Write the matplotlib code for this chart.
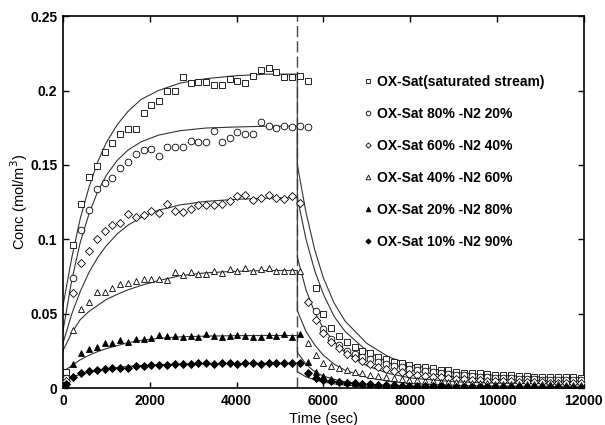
import numpy as np
import matplotlib
matplotlib.use("Agg")
import matplotlib.pyplot as plt

# sampling times of the measured points (s)
sample_times = np.arange(60, 12000, 180)

labels = [
    "OX-Sat(saturated stream)",
    "OX-Sat 80% -N2 20%",
    "OX-Sat 60% -N2 40%",
    "OX-Sat 40% -N2 60%",
    "OX-Sat 20% -N2 80%",
    "OX-Sat 10% -N2 90%",
]

# measured concentrations (mol/m3)
sat100 = [0.011, 0.096, 0.124, 0.142, 0.149, 0.159, 0.165, 0.171, 0.174, 0.174, 0.185, 0.190,
          0.193, 0.200, 0.200, 0.209, 0.205, 0.206, 0.206, 0.204, 0.204, 0.2075, 0.2065, 0.205,
          0.210, 0.214, 0.215, 0.2125, 0.209, 0.209, 0.210, 0.2065,
          0.067, 0.050, 0.0405, 0.035, 0.031, 0.0277, 0.025, 0.0233, 0.021, 0.0193, 0.0177,
          0.0166, 0.0155, 0.0144, 0.0144, 0.0132, 0.0121, 0.0121, 0.011, 0.0103, 0.0099, 0.0099,
          0.0094, 0.0087, 0.0087, 0.0087, 0.0081, 0.0081, 0.0076, 0.0076, 0.0072, 0.0072, 0.0072,
          0.0072, 0.0065]
sat80 = [0.007, 0.074, 0.106, 0.120, 0.134, 0.1375, 0.141, 0.148, 0.152, 0.157, 0.160, 0.161,
         0.156, 0.162, 0.162, 0.162, 0.166, 0.1655, 0.1655, 0.173, 0.1655, 0.168, 0.172, 0.171,
         0.171, 0.179, 0.176, 0.175, 0.176, 0.1755, 0.176, 0.1755,
         0.052, 0.040, 0.0327, 0.0289, 0.025, 0.0228, 0.021, 0.0193, 0.0175, 0.0162, 0.015,
         0.014, 0.013, 0.0122, 0.0113, 0.0105, 0.010, 0.0095, 0.009, 0.0085, 0.008, 0.0077,
         0.0073, 0.007, 0.0068, 0.0065, 0.0062, 0.006, 0.0058, 0.0057, 0.0055, 0.0055, 0.0054,
         0.0053, 0.0052]
sat60 = [0.005, 0.0636, 0.084, 0.092, 0.100, 0.1055, 0.1095, 0.111, 0.117, 0.115, 0.116, 0.119,
         0.118, 0.1235, 0.119, 0.1185, 0.1205, 0.123, 0.123, 0.123, 0.124, 0.126, 0.129, 0.1297,
         0.1263, 0.128, 0.1297, 0.1275, 0.127, 0.129, 0.1245,
         0.058, 0.046, 0.037, 0.031, 0.027, 0.023, 0.020, 0.018, 0.016, 0.014, 0.0127, 0.0115,
         0.0105, 0.0097, 0.009, 0.0083, 0.0077, 0.0072, 0.0067, 0.0063, 0.006, 0.0056, 0.0053,
         0.005, 0.0048, 0.0046, 0.0044, 0.0042, 0.004, 0.0039, 0.0038, 0.0037, 0.0036, 0.0035,
         0.0034, 0.0033]
sat40 = [0.003, 0.039, 0.053, 0.058, 0.0647, 0.0647, 0.067, 0.070, 0.0704, 0.072, 0.0735, 0.0735,
         0.073, 0.0726, 0.078, 0.076, 0.078, 0.0766, 0.0766, 0.0786, 0.0775, 0.080, 0.079, 0.081,
         0.079, 0.0797, 0.0804, 0.079, 0.079, 0.079, 0.079,
         0.0305, 0.022, 0.0166, 0.0148, 0.0132, 0.0121, 0.011, 0.010, 0.009, 0.0082, 0.0075,
         0.0068, 0.0062, 0.0057, 0.0053, 0.0049, 0.0046, 0.0043, 0.004, 0.0038, 0.0036, 0.0034,
         0.0032, 0.0031, 0.003, 0.0029, 0.0028, 0.0027, 0.0026, 0.0025, 0.0025, 0.0024, 0.0024,
         0.0023, 0.0023, 0.0022]
sat20 = [0.001, 0.016, 0.0237, 0.026, 0.0278, 0.030, 0.0305, 0.0323, 0.031, 0.0327, 0.0327, 0.0334,
         0.0356, 0.035, 0.035, 0.034, 0.035, 0.0345, 0.0363, 0.035, 0.0345, 0.035, 0.0356, 0.035,
         0.0345, 0.0345, 0.0356, 0.035, 0.0363, 0.0345, 0.0363,
         0.0177, 0.011, 0.008, 0.0062, 0.005, 0.0042, 0.0036, 0.0031, 0.0027, 0.0024, 0.0022,
         0.002, 0.0018, 0.0017, 0.0016, 0.0015, 0.0014, 0.0013, 0.0012, 0.0012, 0.0011, 0.0011,
         0.001, 0.001, 0.001, 0.0009, 0.0009, 0.0009, 0.0008, 0.0008, 0.0008, 0.0007, 0.0007,
         0.0006, 0.0003, 0.0003]
sat10 = [0.003, 0.0072, 0.0099, 0.0116, 0.0121, 0.0125, 0.0132, 0.0137, 0.0137, 0.0148, 0.0148,
         0.0155, 0.0155, 0.0155, 0.0161, 0.0161, 0.0163, 0.0166, 0.0166, 0.0163, 0.0166, 0.0166,
         0.0163, 0.0166, 0.0166, 0.0163, 0.0166, 0.0166, 0.017, 0.0166, 0.0166,
         0.0099, 0.0065, 0.0054, 0.0045, 0.004, 0.0035, 0.0031, 0.0028, 0.0025, 0.0022, 0.002,
         0.0018, 0.0016, 0.0015, 0.0014, 0.0013, 0.0012, 0.0011, 0.001, 0.001, 0.0009, 0.0009,
         0.0008, 0.0008, 0.0007, 0.0007, 0.0006, 0.0006, 0.0005, 0.0005, 0.0005, 0.0004, 0.0004,
         0.0003, 0.0002, 0.0002]

# model curves
rise_t = [0, 200, 400, 600, 800, 1000, 1250, 1500, 1800, 2200, 2700, 3300, 4000, 4700, 5400]
decay_t = [5400, 5600, 5800, 6000, 6250, 6500, 7000, 7500, 8000, 9000, 10000, 11000, 12000]

fit100_rise = [0.055, 0.087, 0.114, 0.135, 0.152, 0.165, 0.177, 0.186, 0.194, 0.200, 0.205, 0.208, 0.210, 0.211, 0.211]
fit80_rise = [0.038, 0.072, 0.098, 0.117, 0.132, 0.143, 0.153, 0.160, 0.1655, 0.170, 0.173, 0.1748, 0.1755, 0.176, 0.176]
fit60_rise = [0.030, 0.0495, 0.065, 0.0777, 0.0877, 0.0957, 0.1036, 0.1095, 0.1147, 0.1195, 0.1231, 0.1255, 0.1269, 0.1276, 0.128]
fit40_rise = [0.025, 0.037, 0.046, 0.0515, 0.0555, 0.0595, 0.063, 0.066, 0.069, 0.0722, 0.0755, 0.0775, 0.0785, 0.079, 0.079]
fit20_rise = [0.011, 0.015, 0.019, 0.022, 0.0245, 0.0265, 0.0285, 0.0305, 0.032, 0.0334, 0.0344, 0.0349, 0.0352, 0.0353, 0.0353]
fit10_rise = [0.005, 0.0072, 0.0092, 0.0106, 0.0118, 0.0128, 0.0137, 0.0145, 0.0151, 0.0157, 0.0161, 0.0164, 0.0165, 0.0166, 0.0166]

fit100_decay = [0.150, 0.118, 0.093, 0.074, 0.057, 0.045, 0.030, 0.021, 0.0155, 0.0105, 0.0085, 0.0075, 0.007]
fit80_decay = [0.128, 0.100, 0.079, 0.063, 0.048, 0.038, 0.025, 0.017, 0.012, 0.0075, 0.0058, 0.005, 0.0048]
fit60_decay = [0.088, 0.066, 0.051, 0.040, 0.031, 0.024, 0.015, 0.0098, 0.0068, 0.0042, 0.0033, 0.003, 0.0028]
fit40_decay = [0.052, 0.038, 0.029, 0.022, 0.016, 0.012, 0.0072, 0.0045, 0.003, 0.0018, 0.0014, 0.0012, 0.0012]
fit20_decay = [0.024, 0.016, 0.011, 0.008, 0.0058, 0.0042, 0.0025, 0.0016, 0.001, 0.0005, 0.0004, 0.0003, 0.0003]
fit10_decay = [0.011, 0.0075, 0.0055, 0.004, 0.0028, 0.002, 0.0012, 0.0008, 0.0005, 0.0003, 0.0002, 0.0002, 0.0002]

switch_time = 5400

plt.rcParams['font.family'] = ['Liberation Sans', 'DejaVu Sans']

fig = plt.figure(figsize=(6.05, 4.25), dpi=100)
ax = fig.add_axes([0.104, 0.087, 0.861, 0.875])

measured = [sat100, sat80, sat60, sat40, sat20, sat10]
fits = [(fit100_rise, fit100_decay), (fit80_rise, fit80_decay), (fit60_rise, fit60_decay),
        (fit40_rise, fit40_decay), (fit20_rise, fit20_decay), (fit10_rise, fit10_decay)]
styles = [('s', 'white', 4.8), ('o', 'white', 4.8), ('D', 'white', 3.8),
          ('^', 'white', 4.8), ('^', 'black', 4.8), ('D', 'black', 3.8)]

for (rise, decay) in fits:
    ax.plot(rise_t + decay_t, rise + decay, color='#333333', lw=0.8, zorder=2)

for vals, (m, fc, ms), lab in zip(measured, styles, labels):
    ax.plot(sample_times, vals, ls='none', marker=m, mfc=fc, mec='black',
            ms=ms, mew=0.6, label=lab, zorder=3)

ax.axvline(switch_time, color='#444444', lw=1.0, ls=(0, (8, 3)), zorder=1)

ax.set_xlim(0, 12000)
ax.set_ylim(0, 0.25)
ax.set_xticks(range(0, 12001, 2000))
ax.set_yticks([0, 0.05, 0.1, 0.15, 0.2, 0.25])
ax.set_yticklabels(['0', '0.05', '0.1', '0.15', '0.2', '0.25'])
ax.tick_params(direction='in', top=True, right=True, length=4, width=1, labelsize=10, pad=4)
for lbl in ax.get_xticklabels() + ax.get_yticklabels():
    lbl.set_fontweight('bold')
for sp in ax.spines.values():
    sp.set_linewidth(1.2)

ax.set_xlabel('Time (sec)', fontsize=10.5, labelpad=3)
ax.set_ylabel('Conc (mol/m$^3$)', fontsize=10.5)
ax.yaxis.set_label_coords(-0.063, 0.5)

leg = ax.legend(loc='upper left', bbox_to_anchor=(0.565, 0.861), frameon=False,
                prop={'weight': 'bold', 'size': 10}, markerscale=0.7,
                handlelength=0.6, handletextpad=0.3, labelspacing=1.3, borderpad=0)

fig.savefig('out.png', dpi=100)
